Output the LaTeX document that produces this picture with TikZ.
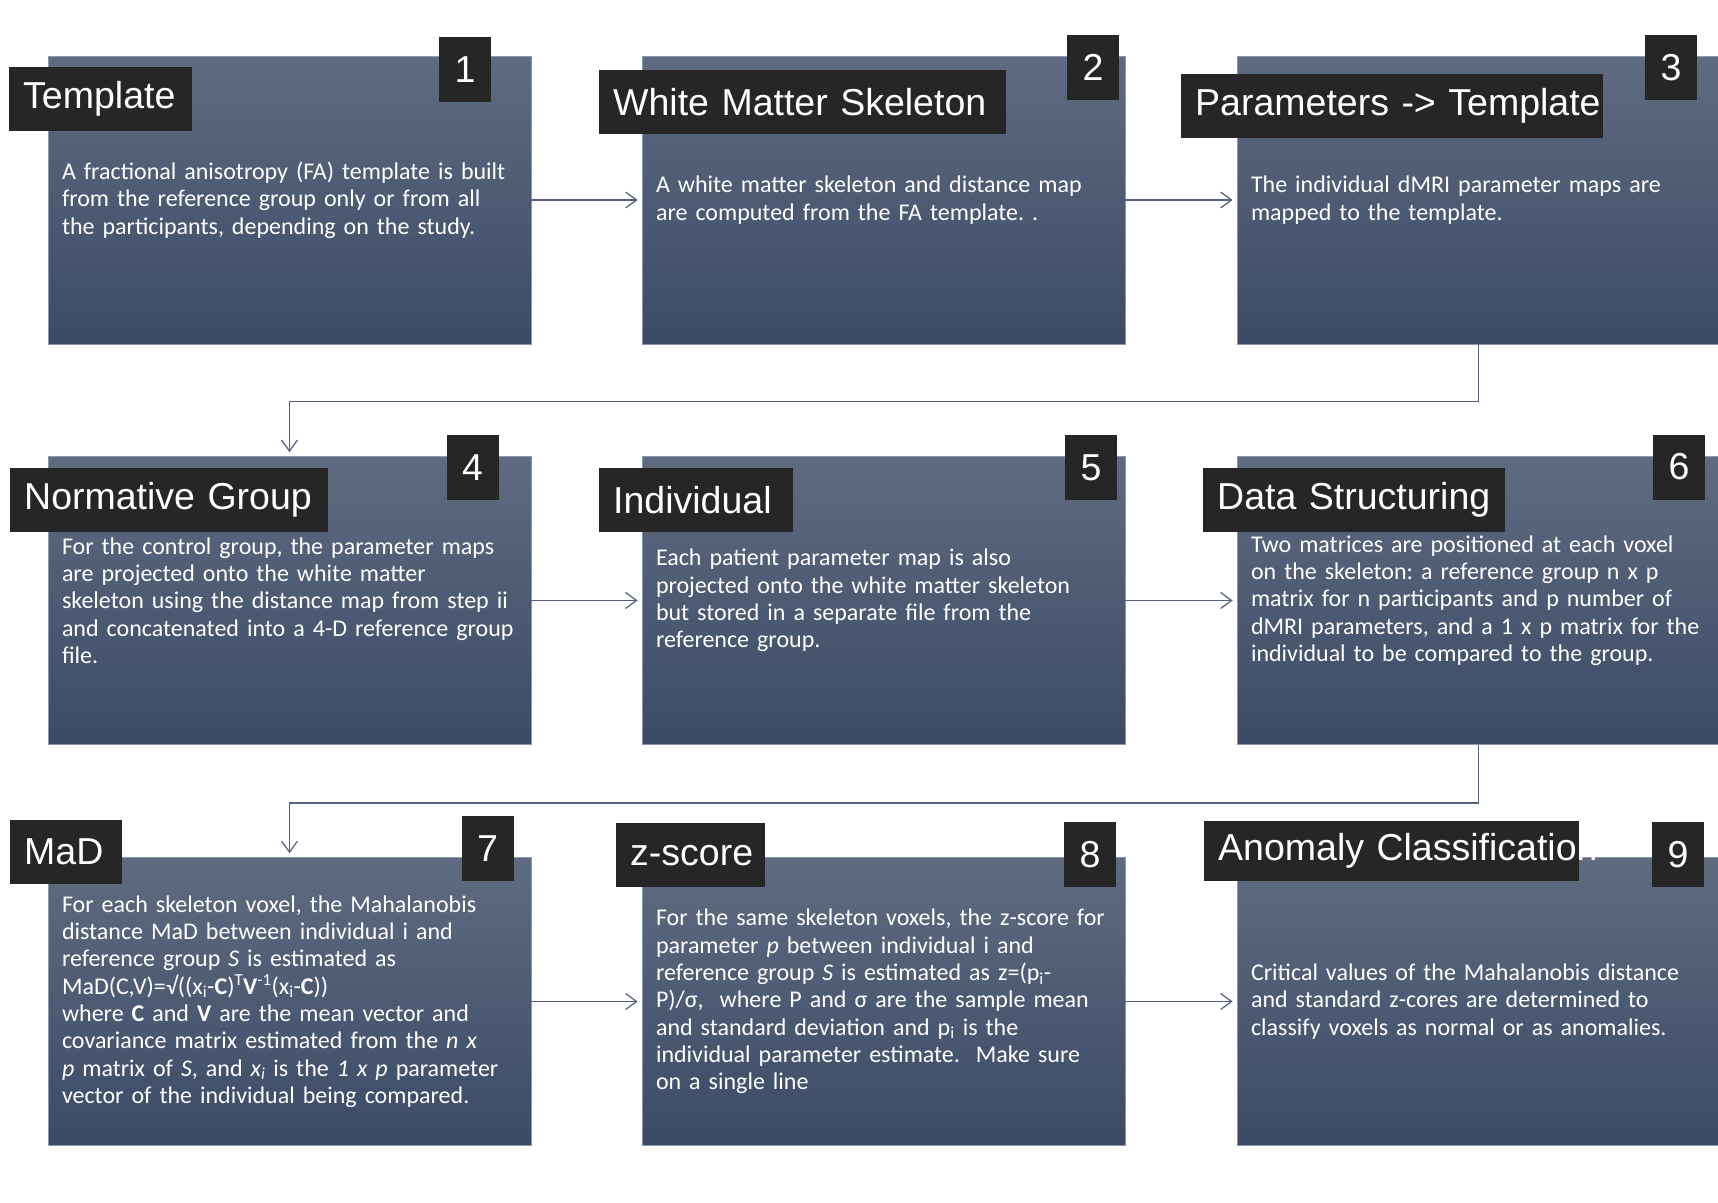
\documentclass[tikz,border=0pt]{standalone}
\usepackage{fontspec}
\setmainfont{Carlito}
\newfontfamily\titlefont{Liberation Sans}
\usepackage{xcolor}
\usetikzlibrary{arrows.meta}

\definecolor{titlebg}{HTML}{262626}
\definecolor{boxtop}{HTML}{5F6B80}
\definecolor{boxmid}{HTML}{46556F}
\definecolor{boxbot}{HTML}{3B4A66}
\definecolor{boxline}{HTML}{8A98AE}
\definecolor{linkcol}{HTML}{50607E}

\lineskiplimit=-20pt

\begin{document}
\begin{tikzpicture}[x=1pt, y=-1pt,
    stepbox/.style={rectangle, top color=boxtop, middle color=boxmid, bottom color=boxbot,
                    draw=boxline, line width=0.8pt, minimum width=483pt, minimum height=288pt,
                    text width=455pt, inner xsep=14pt, inner ysep=0pt, align=left, text=white,
                    font=\fontsize{24}{27.3}\selectfont\frenchspacing},
    title/.style={fill=titlebg, text=white, anchor=north west, inner xsep=14pt, inner ysep=0pt,
                  minimum height=64pt, align=left, font=\titlefont\fontsize{37.5}{40}\selectfont},
    badge/.style={fill=titlebg, text=white, minimum width=52pt, minimum height=65pt, inner sep=0pt,
                  font=\titlefont\fontsize{37.5}{40}\selectfont},
    link/.style={draw=linkcol, line width=1.2pt, -{Straight Barb[length=11pt, width=16pt]}, shorten >=4pt}
]
\useasboundingbox (0,0) rectangle (1718,1202);

% --- Row 1 ---
\node[stepbox] (template) at (289.5,200)
    {A fractional anisotropy (FA) template is built\\
     from the reference group only or from all\\
     the participants, depending on the study.};
\node[stepbox] (skeleton) at (883.5,200)
    {A white matter skeleton and distance map\\
     are computed from the FA template. .};
\node[stepbox] (params) at (1478.5,200)
    {The individual dMRI parameter maps are\\
     mapped to the template.};

% --- Row 2 ---
\node[stepbox] (normative) at (289.5,600.5)
    {For the control group, the parameter maps\\
     are projected onto the white matter\\
     skeleton using the distance map from step ii\\
     and concatenated into a 4-D reference group\\
     file.};
\node[stepbox] (individual) at (883.5,600.5)
    {Each patient parameter map is also\\
     projected onto the white matter skeleton\\
     but stored in a separate file from the\\
     reference group.};
\node[stepbox] (structuring) at (1478.5,600.5)
    {Two matrices are positioned at each voxel\\
     on the skeleton: a reference group n x p\\
     matrix for n participants and p number of\\
     dMRI parameters, and a 1 x p matrix for the\\
     individual to be compared to the group.};

% --- Row 3 ---
\node[stepbox] (mad) at (289.5,1001.5)
    {For each skeleton voxel, the Mahalanobis\\
     distance MaD between individual i and\\
     reference group \textit{S} is estimated as\\
     MaD(C,V)=√((x\textsubscript{i}-\textbf{C})\textsuperscript{T}\textbf{V}\textsuperscript{-1}(x\textsubscript{i}-\textbf{C}))\\
     where \textbf{C} and \textbf{V} are the mean vector and\\
     covariance matrix estimated from the \textit{n x}\\
     \textit{p} matrix of \textit{S}, and \textit{x\textsubscript{i}} is the \textit{1 x p} parameter\\
     vector of the individual being compared.};
\node[stepbox] (zscore) at (883.5,1001.5)
    {For the same skeleton voxels, the z-score for\\
     parameter \textit{p} between individual i and\\
     reference group \textit{S} is estimated as z=(p\textsubscript{i}-\\
     P)/σ,~ where P and σ are the sample mean\\
     and standard deviation and p\textsubscript{i} is the\\
     individual parameter estimate.~ Make sure\\
     on a single line};
\node[stepbox] (anomaly) at (1478.5,1001.5)
    {Critical values of the Mahalanobis distance\\
     and standard z-cores are determined to\\
     classify voxels as normal or as anomalies.};

% --- Titles ---
\node[title, text width=155pt] (template-t) at (9,67) {Template};
\node[title, text width=379pt] (skeleton-t) at (599,70) {White Matter Skeleton};
\node[title, text width=394pt] (params-t) at (1181,74) {\mbox{Parameters -> Template}};
\node[title, text width=290pt] (normative-t) at (10,468) {Normative Group};
\node[title, text width=166pt] (individual-t) at (599,468) {Individual};
\node[title, text width=274pt] (structuring-t) at (1203,468) {Data Structuring};
\node[title, text width=84pt] (mad-t) at (10,820) {MaD};
\node[title, text width=121pt] (zscore-t) at (616,823) {\mbox{z-score}};
\node[title, text width=347pt, minimum height=60pt] (anomaly-t) at (1204,821) {\mbox{Anomaly Classification}};

% --- Step numbers ---
\node[badge] (n1) at (465,69.5) {1};
\node[badge] (n2) at (1093,67.5) {2};
\node[badge] (n3) at (1671,67.5) {3};
\node[badge] (n4) at (472.5,467.5) {4};
\node[badge] (n5) at (1091,467.5) {5};
\node[badge] (n6) at (1679,467) {6};
\node[badge] (n7) at (487.5,848.5) {7};
\node[badge] (n8) at (1090,854.5) {8};
\node[badge] (n9) at (1678,854.5) {9};

% --- Arrows ---
\draw[link] (template.east) -- (skeleton.west);
\draw[link] (skeleton.east) -- (params.west);
\draw[link] (params.south) -- ++(0,57) -| (normative.north);
\draw[link] (normative.east) -- (individual.west);
\draw[link] (individual.east) -- (structuring.west);
\draw[link] (structuring.south) -- ++(0,58) -| (mad.north);
\draw[link] (mad.east) -- (zscore.west);
\draw[link] (zscore.east) -- (anomaly.west);

\end{tikzpicture}
\end{document}
